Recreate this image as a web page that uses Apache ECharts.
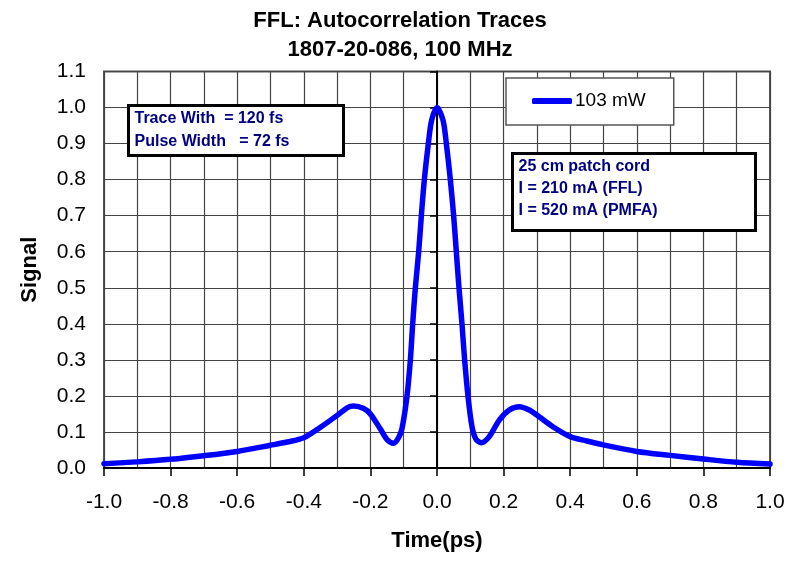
<!DOCTYPE html>
<html>
<head>
<meta charset="utf-8">
<script src="https://cdn.jsdelivr.net/npm/echarts@6/dist/echarts.min.js"></script>
<style>
html,body{margin:0;padding:0;background:#fff;}
#chart{width:800px;height:562px;}
</style>
</head>
<body>
<div id="chart"></div>
<script>
// ---- data ----
const titleLines = ["FFL: Autocorrelation Traces", "1807-20-086, 100 MHz"];
const seriesName = "103 mW";
const timePs = [
  -1.0, -0.9, -0.8, -0.7, -0.6, -0.5, -0.45, -0.4, -0.35, -0.3, -0.27, -0.25, -0.22, -0.2,
  -0.17, -0.15, -0.13, -0.115, -0.105, -0.09, -0.08, -0.073, -0.065, -0.055, -0.047, -0.038,
  -0.026, -0.016, 0.0, 0.018, 0.028, 0.04, 0.05, 0.058, 0.066, 0.075, 0.083, 0.093, 0.105,
  0.117, 0.133, 0.157, 0.187, 0.217, 0.247, 0.277, 0.307, 0.347, 0.4, 0.45, 0.5, 0.6, 0.7,
  0.8, 0.9, 1.0
];
const signal = [
  0.012, 0.017, 0.024, 0.034, 0.046, 0.063, 0.072, 0.084, 0.113, 0.146, 0.167, 0.172, 0.165, 0.150,
  0.108, 0.079, 0.069, 0.085, 0.11, 0.2, 0.3, 0.4, 0.5, 0.6, 0.7, 0.8,
  0.9, 0.965, 1.0, 0.965, 0.9, 0.8, 0.7, 0.6, 0.5, 0.4, 0.3, 0.2, 0.115,
  0.08, 0.07, 0.087, 0.133, 0.161, 0.17, 0.161, 0.142, 0.115, 0.087, 0.075, 0.064, 0.046, 0.035,
  0.025, 0.016, 0.011
];
const xAxisName = "Time(ps)";
const yAxisName = "Signal";
const noteBox1 = ["Trace With  = 120 fs", "Pulse Width   = 72 fs"];
const noteBox2 = ["25 cm patch cord", "I = 210 mA (FFL)", "I = 520 mA (PMFA)"];
const xRange = [-1.0, 1.0];
const yRange = [0.0, 1.1];

// ---- chart ----
const FONT = "'Liberation Sans', Arial, sans-serif";
const chart = echarts.init(document.getElementById('chart'), null, {renderer: 'canvas'});
const points = timePs.map((t, i) => [t, signal[i]]);

chart.setOption({
  animation: false,
  backgroundColor: '#fff',
  title: {
    text: titleLines.join('\n'),
    left: 'center',
    top: 1,
    textStyle: {fontFamily: FONT, fontSize: 22, fontWeight: 'bold', color: '#000', lineHeight: 29}
  },
  grid: {
    left: 104, right: 30, top: 71.5, bottom: 94,
    show: true, borderColor: '#555', borderWidth: 2, backgroundColor: '#fff'
  },
  legend: {
    data: [seriesName],
    left: 506, top: 78,
    orient: 'horizontal',
    icon: 'roundRect',
    itemWidth: 40, itemHeight: 6, itemGap: 0,
    padding: [13, 28, 14, 26],
    backgroundColor: '#fff',
    borderColor: '#555', borderWidth: 1.5,
    textStyle: {fontFamily: FONT, fontSize: 19, color: '#000', lineHeight: 20, padding: [0, 0, 0, -2]}
  },
  xAxis: {
    type: 'value',
    min: xRange[0], max: xRange[1], interval: 0.2,
    name: xAxisName,
    nameLocation: 'middle',
    nameGap: 62,
    nameTextStyle: {fontFamily: FONT, fontSize: 22, fontWeight: 'bold', color: '#000'},
    axisLine: {show: true, onZero: false, lineStyle: {color: '#000', width: 2}},
    axisTick: {show: true, inside: false, length: 8, lineStyle: {color: '#000', width: 1.5}},
    minorTick: {show: false, splitNumber: 2},
    axisLabel: {
      fontFamily: FONT, fontSize: 21, color: '#000', margin: 24,
      formatter: v => v.toFixed(1)
    },
    splitLine: {show: true, lineStyle: {color: '#444', width: 1.2}},
    minorSplitLine: {show: true, lineStyle: {color: '#444', width: 1.2}}
  },
  yAxis: {
    type: 'value',
    min: yRange[0], max: yRange[1], interval: 0.1,
    name: yAxisName,
    nameLocation: 'middle',
    nameGap: 63,
    nameRotate: 90,
    nameTextStyle: {fontFamily: FONT, fontSize: 22, fontWeight: 'bold', color: '#000'},
    axisLine: {show: true, lineStyle: {color: '#000', width: 2}},
    axisTick: {show: true, inside: false, length: 7, lineStyle: {color: '#000', width: 1.5}},
    axisLabel: {
      fontFamily: FONT, fontSize: 21, color: '#000', margin: 18,
      formatter: v => v.toFixed(1)
    },
    splitLine: {show: true, lineStyle: {color: '#444', width: 1.2}}
  },
  series: [{
    name: seriesName,
    type: 'line',
    data: points,
    showSymbol: false,
    symbol: 'none',
    smooth: 0.3,
    lineStyle: {color: '#0000ff', width: 5.5, cap: 'round', join: 'round'},
    itemStyle: {color: '#0000ff'},
    z: 3
  }],
  graphic: [
    {
      type: 'group', left: 127, top: 104, z: 100,
      children: [
        {type: 'rect', z: 100, shape: {x: 0, y: 0, width: 215, height: 50},
         style: {fill: '#fff', stroke: '#000', lineWidth: 3}},
        {type: 'text', z: 101, x: 6, y: 2,
         style: {text: noteBox1.join('\n'), fill: '#000080', font: 'bold 16px ' + FONT,
                 lineHeight: 23, verticalAlign: 'top'}}
      ]
    },
    {
      type: 'group', left: 511, top: 152, z: 100,
      children: [
        {type: 'rect', z: 100, shape: {x: 0, y: 0, width: 243, height: 77},
         style: {fill: '#fff', stroke: '#000', lineWidth: 3}},
        {type: 'text', z: 101, x: 6, y: 2,
         style: {text: noteBox2.join('\n'), fill: '#000080', font: 'bold 16px ' + FONT,
                 lineHeight: 22, verticalAlign: 'top'}}
      ]
    }
  ]
});
</script>
</body>
</html>
